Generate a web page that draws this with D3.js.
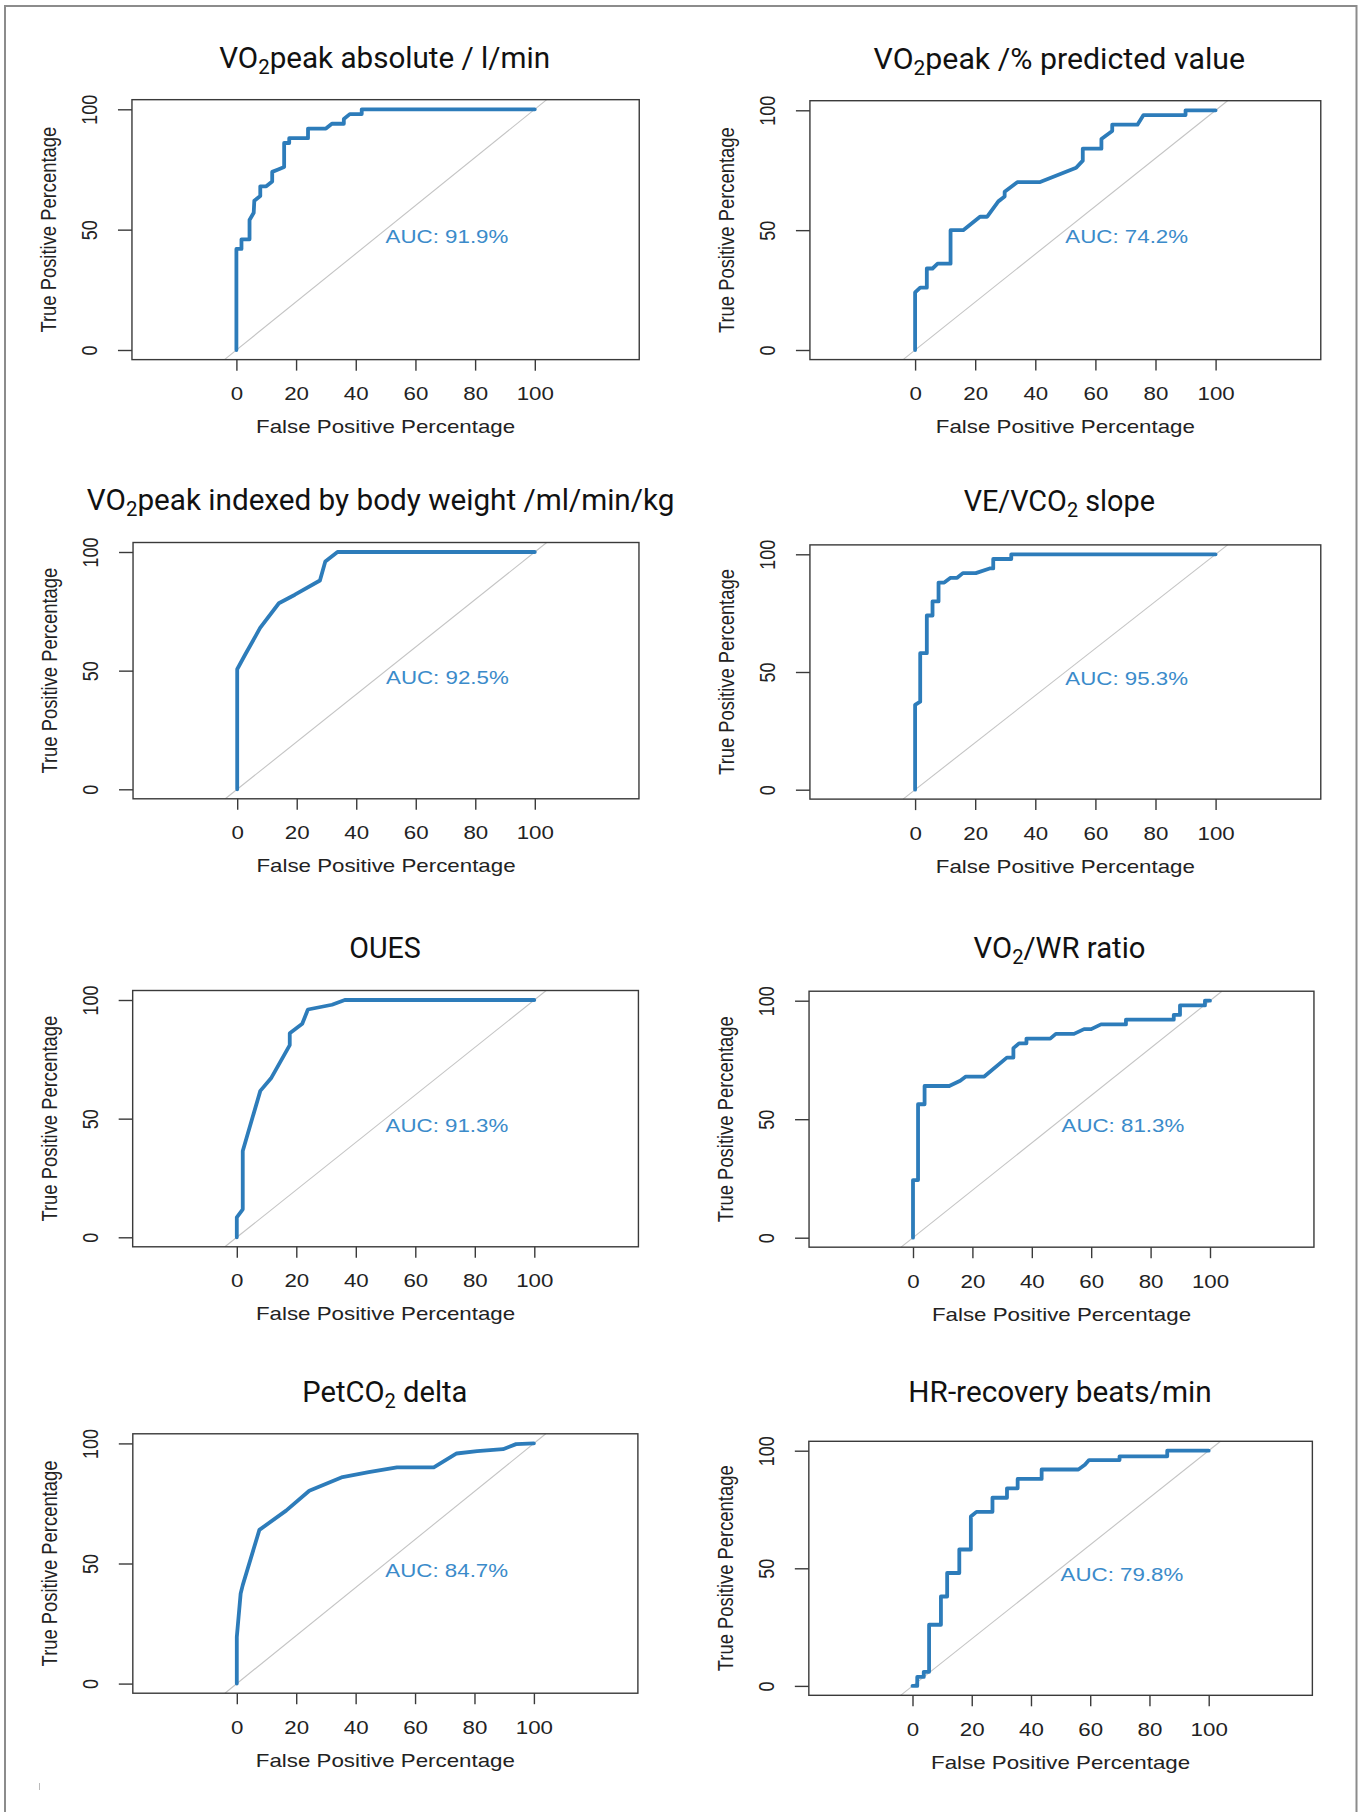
<!DOCTYPE html>
<html><head><meta charset="utf-8">
<script src="https://cdn.jsdelivr.net/npm/d3@7"></script>
<style>body{margin:0;background:#fff}svg{display:block}</style>
</head><body>
<script>
// ---------- DATA ----------
// Titles: even indices normal text, odd indices subscript
const titles = [
  ["VO", "2", "peak absolute / l/min"],
  ["VO", "2", "peak /% predicted value"],
  ["VO", "2", "peak indexed by body weight /ml/min/kg"],
  ["VE/VCO", "2", " slope"],
  ["OUES"],
  ["VO", "2", "/WR ratio"],
  ["PetCO", "2", " delta"],
  ["HR-recovery beats/min"]
];
const aucLabels = ["AUC: 91.9%", "AUC: 74.2%", "AUC: 92.5%", "AUC: 95.3%",
                   "AUC: 91.3%", "AUC: 81.3%", "AUC: 84.7%", "AUC: 79.8%"];
const xTicks = [0, 20, 40, 60, 80, 100];
const yTicks = [0, 50, 100];
const xAxisLabel = "False Positive Percentage";
const yAxisLabel = "True Positive Percentage";

// ROC curves: [false positive %, true positive %]
const rocVO2abs = [[0,0],[0,42],[1.7,42],[1.7,46],[4.4,46],[4.4,54],[5.8,57],[6,62],[8,64],[8,68],[10,68],[12,70],[12,74],[14,75],[16,76],[16,86],[17.7,86],[17.7,88],[24,88],[24,92],[30,92],[32,94],[36,94],[36,96],[38,98],[42,98],[42,100],[100,100]];
const rocVO2pred = [[0,0],[0,24],[1.7,26],[3.9,26],[3.9,34],[5.8,34],[7.5,36],[11.8,36],[11.8,50],[16,50],[21.6,55.6],[24,55.6],[27.7,62],[29.8,64],[29.8,66],[34,70],[41.4,70],[53.6,76],[55.8,79],[55.8,84],[62,84],[62,88],[65.6,91.4],[65.6,94],[74,94],[76,98],[90,98],[90,100],[100,100]];
const rocVO2kg = [[0,0],[0,50.6],[2.6,56.6],[7.7,68],[14,78.4],[19.4,82],[27.8,88],[29.6,96],[33.7,100],[100,100]];
const rocVEVCO2 = [[0,0],[0,36],[1.7,37.4],[1.7,58],[3.9,58],[3.9,74],[5.8,74],[5.8,80],[7.8,80],[7.8,88],[9.7,88],[11.8,90],[14,90],[15.9,92],[20.2,92],[24.8,94],[26,94],[26,98],[32,98],[32,100],[100,100]];
const rocOUES = [[0,0],[0,8.4],[2,11.8],[2,36.4],[7.9,61.7],[11.5,67],[17.8,81],[17.8,86],[22,90],[23.9,96],[32,98],[36.3,100],[100,100]];
const rocVO2WR = [[0,0],[0,24.3],[1.7,24.3],[1.7,56.3],[3.9,56.3],[3.9,64],[12.2,64],[15.9,66.2],[17.8,68],[24,68],[31.6,76],[33.8,76],[33.8,80],[35.7,82],[38.2,82],[38.2,84],[46.2,84],[48.1,86],[54.2,86],[57.6,88],[60,88],[63.3,90],[71.7,90],[71.7,92],[87.8,92],[87.8,94],[89.9,94],[89.9,98],[98.3,98],[98.3,100],[100,100]];
const rocPetCO2 = [[0,0],[0,19.4],[0.6,27.8],[1.3,37.5],[2,41],[7.6,64],[16.6,72],[24.4,80.3],[35.6,86],[44.4,88],[53.9,90],[66.3,90],[74,95.8],[80.9,96.8],[89.6,97.6],[94,99.7],[100,100]];
const rocHRR = [[0,0],[1.6,0],[1.6,3.8],[3.8,3.8],[3.8,6],[5.6,6],[5.6,26],[9.6,26],[9.6,38],[11.7,38],[11.7,48],[15.8,48],[15.8,58],[19.7,58],[19.7,72],[21.6,74],[27,74],[27,80],[31.9,80],[31.9,84],[35.5,84],[35.5,88],[43.6,88],[43.6,92],[56,92],[58.2,94],[59.6,96],[69.9,96],[69.9,97.6],[86,97.6],[86,100],[100,100]];
const curves = [rocVO2abs, rocVO2pred, rocVO2kg, rocVEVCO2, rocOUES, rocVO2WR, rocPetCO2, rocHRR];

// ---------- LAYOUT ----------
const W = 1359, H = 1812;
const layout = [
  {x0:236.4, x100:534.8, y0:350,    y100:109.3,  tx:384.6,  ty:68.3,   tw:331},
  {x0:915.1, x100:1215.6,y0:350,    y100:110.3,  tx:1059.3, ty:69,     tw:371.5},
  {x0:237.2, x100:534.8, y0:789.3,  y100:552,    tx:380.6,  ty:510,    tw:587.7},
  {x0:915.1, x100:1215.6,y0:789.7,  y100:554.3,  tx:1059.3, ty:510.7,  tw:191.4},
  {x0:236.8, x100:534.3, y0:1237.3, y100:1000,   tx:385,    ty:958.3,  tw:71.6},
  {x0:913,   x100:1210,  y0:1237.7, y100:1000.7, tx:1059.5, ty:958.3,  tw:171.9},
  {x0:236.8, x100:533.9, y0:1683.6, y100:1443.4, tx:384.9,  ty:1401.7, tw:165.2},
  {x0:912.5, x100:1208.7,y0:1685.9, y100:1450.7, tx:1060,   ty:1401.7, tw:303.5}
];
const STRETCH = 1.24;
const AXFONT = "'Liberation Sans', Arial, Helvetica, sans-serif";
const TFONT = "'Liberation Sans Narrow', 'Roboto', 'Noto Sans', sans-serif";
const CURVE = "#2d7cba", AUCCOL = "#3b8bca", INK = "#222";

const svg = d3.select("body").append("svg").attr("width", W).attr("height", H)
  .style("font-family", AXFONT);

// outer frame
svg.append("path").attr("d", `M5,${H} V6 H1356.5 V${H}`)
  .attr("fill", "none").attr("stroke", "#8c8c8c").attr("stroke-width", 2);
svg.append("line").attr("x1", 39.5).attr("x2", 39.5).attr("y1", 1783).attr("y2", 1790)
  .attr("stroke", "#bbb").attr("stroke-width", 1);

layout.forEach((L, i) => {
  const xs = d3.scaleLinear().domain([0, 100]).range([L.x0, L.x100]);
  const ys = d3.scaleLinear().domain([0, 100]).range([L.y0, L.y100]);
  const xl = xs(-35), xr = xs(135), yt = ys(104), yb = ys(-4);
  const g = svg.append("g");

  // diagonal reference line
  g.append("line")
    .attr("x1", xs(-4)).attr("y1", ys(-4)).attr("x2", xs(104)).attr("y2", ys(104))
    .attr("stroke", "#c4c4c4").attr("stroke-width", 1.1);

  // ROC curve
  const line = d3.line().x(d => xs(d[0])).y(d => ys(d[1]));
  g.append("path").datum(curves[i]).attr("d", line)
    .attr("fill", "none").attr("stroke", CURVE).attr("stroke-width", 3.8)
    .attr("stroke-linejoin", "round").attr("stroke-linecap", "round");

  // box
  g.append("rect").attr("x", xl).attr("y", yt).attr("width", xr - xl).attr("height", yb - yt)
    .attr("fill", "none").attr("stroke", "#3a3a3a").attr("stroke-width", 1.4);

  // x axis
  const gx = g.append("g").attr("transform", `translate(0,${yb})`)
    .call(d3.axisBottom(xs).tickValues(xTicks).tickFormat(d3.format("d")).tickSize(11).tickSizeOuter(0));
  gx.select(".domain").remove();
  gx.selectAll(".tick line").attr("stroke", "#3a3a3a").attr("stroke-width", 1.4);
  gx.selectAll(".tick text").attr("y", 40.5).attr("dy", null)
    .attr("transform", `scale(${STRETCH},1)`)
    .attr("font-size", 18).attr("font-family", AXFONT).attr("fill", INK);

  // y axis
  const gy = g.append("g").attr("transform", `translate(${xl},0)`)
    .call(d3.axisLeft(ys).tickValues(yTicks).tickFormat(d3.format("d")).tickSize(14).tickSizeOuter(0));
  gy.select(".domain").remove();
  gy.selectAll(".tick line").attr("stroke", "#3a3a3a").attr("stroke-width", 1.4);
  gy.selectAll(".tick text").attr("x", 0).attr("y", 0).attr("dy", null)
    .attr("text-anchor", "middle")
    .attr("transform", `translate(-34.7,0) scale(${STRETCH},1) rotate(-90)`)
    .attr("font-size", 18).attr("font-family", AXFONT).attr("fill", INK);

  // axis titles
  g.append("text").text(xAxisLabel)
    .attr("text-anchor", "middle").attr("font-size", 18).attr("fill", INK)
    .attr("transform", `translate(${xs(50)},${yb + 73.7}) scale(${STRETCH},1)`);
  g.append("text").text(yAxisLabel)
    .attr("text-anchor", "middle").attr("font-size", 18.4).attr("fill", INK)
    .attr("transform", `translate(${xl - 76},${ys(50)}) scale(${STRETCH},1) rotate(-90)`);

  // AUC label
  g.append("text").text(aucLabels[i])
    .attr("text-anchor", "start").attr("font-size", 18).attr("fill", AUCCOL)
    .attr("transform", `translate(${xs(50)},${ys(50) + 13}) scale(${STRETCH},1)`);

  // panel title
  const t = g.append("text").attr("font-family", TFONT).attr("font-size", 29)
    .attr("font-weight", 400).attr("fill", "#111").attr("text-anchor", "middle");
  let shifted = false;
  titles[i].forEach((seg, k) => {
    const ts = t.append("tspan").text(seg);
    if (k % 2 === 1) { ts.attr("font-size", 20).attr("dy", 6); shifted = true; }
    else if (shifted) { ts.attr("dy", -6); shifted = false; }
  });
  const nat = t.node().getBBox().width;
  const k = L.tw / nat;
  t.attr("transform", `translate(${L.tx},${L.ty}) scale(${k},1)`);
});
</script>
</body></html>
